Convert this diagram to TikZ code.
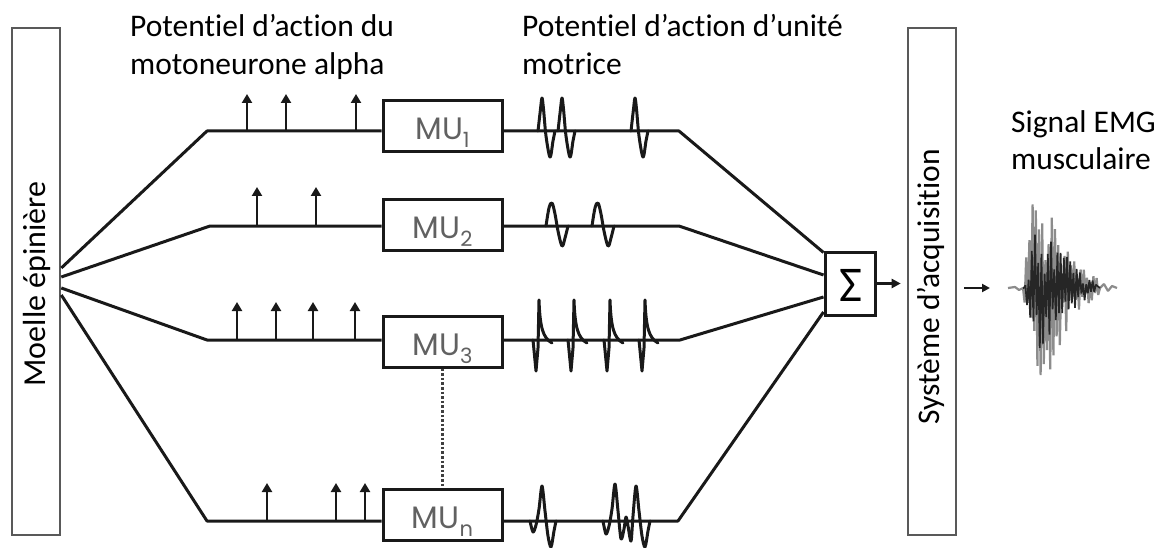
\documentclass[tikz,border=0pt]{standalone}
\usepackage{fontspec}
\setmainfont{Carlito}[Ligatures={NoCommon}]
\newfontfamily\mufont{Poppins}
\usetikzlibrary{arrows.meta,calc}
\begin{document}
\begin{tikzpicture}[x=1pt,y=-1pt,
  declare function={env(\t)=min(\t/9,1)*exp(-max(\t-28,0)/22);},
  ln/.style={line width=3pt, draw=black!90, line join=round},
  bar/.style={draw=black!65, line width=2.6pt, inner sep=0pt, minimum width=48pt, minimum height=507pt},
  mubox/.style={draw=black!90, line width=3pt, inner sep=0pt, minimum width=119pt, minimum height=51pt},
  mulabel/.style={inner sep=0pt, anchor=base, text=black!62, font=\mufont\fontsize{31}{31}\selectfont},
  spike/.style={line width=2.8pt, draw=black!90, -{Triangle[length=9pt,width=10pt]}},
  wave/.style={line width=3pt, draw=black!90, line join=round, line cap=round},
  lbl/.style={font=\fontsize{31.5}{38}\selectfont, inner sep=0pt, anchor=base west},
  pics/muapA/.style={code={\draw[wave] plot[smooth, tension=0.55] coordinates {(-4,0) (-1.5,-22) (0,-33) (1.5,-22) (4,5) (8,26) (11,10) (13,0)};}},
  pics/muapB/.style={code={\draw[wave] plot[smooth, tension=0.6] coordinates {(-6,0) (-3,-18) (0,-23) (3,-12) (6,5) (10,20) (13,12) (16,0)};}},
  pics/muapC/.style={code={\draw[wave] (-6,0) -- (-3,31) -- (-1,8) -- (0,-40) .. controls (1,-12) and (4,-2) .. (13,3);}},
  pics/muapD/.style={code={\draw[wave] plot[smooth, tension=0.5] coordinates {(-12,0) (-9,11) (-6,4) (-3,-12) (0,-35) (3,-10) (6,15) (9,26) (12,10) (14,0)};}},
  pics/muapE/.style={code={\draw[wave] plot[smooth, tension=0.5] coordinates {(-12,0) (-9,13) (-6,5) (-3,-12) (0,-37) (3,-10) (6,18) (9,8) (11,-4) (13,5) (16,20) (18,-5) (21,-35) (24,-10) (27,15) (30,26) (33,10) (35,0)};}},
  ]
\useasboundingbox (0,0) rectangle (1161,548);

% side bars
\node[bar] (moelle) at (36,281.5) {};
\node[rotate=90, font=\fontsize{32}{32}\selectfont, inner sep=0pt] (moelletxt) at (37,284) {Moelle épinière};
\node[bar] (acq) at (932,281.5) {};
\node[rotate=90, font=\fontsize{31.5}{32}\selectfont, inner sep=0pt] (acqtxt) at (931,287) {Système d’acquisition};

% labels
\node[lbl] (t1a) at (130,37) {Potentiel d’action du};
\node[lbl] (t1b) at (130,75) {motoneurone alpha};
\node[lbl] (t2a) at (522,37) {Potentiel d’action d’unité};
\node[lbl] (t2b) at (522,75) {motrice};
\node[lbl] (t3a) at (1011,133) {Signal EMG};
\node[lbl] (t3b) at (1011,170) {musculaire};

% MU boxes
\node[mubox] (mu1) at (442.5,126.5) {};
\node[mubox] (mu2) at (442.5,225) {};
\node[mubox] (mu3) at (442.5,341.5) {};
\node[mubox] (mun) at (442.5,515) {};
\node[mulabel] (mu1t) at ($(mu1.center)+(0,13.5)$) {MU\raisebox{-8pt}{\fontsize{21}{21}\selectfont 1}};
\node[mulabel] (mu2t) at ($(mu2.center)+(0,13.5)$) {MU\raisebox{-8pt}{\fontsize{21}{21}\selectfont 2}};
\node[mulabel] (mu3t) at ($(mu3.center)+(0,13.5)$) {MU\raisebox{-8pt}{\fontsize{21}{21}\selectfont 3}};
\node[mulabel] (munt) at ($(mun.center)+(0,13.5)$) {MU\raisebox{-8pt}{\fontsize{21}{21}\selectfont n}};
\draw[line width=2.6pt, draw=black!75, dotted] (mu3.south) -- (mun.north);

% sum box
\node[draw=black!90, line width=3pt, inner sep=0pt, minimum width=50pt, minimum height=63pt] (sigma) at (850,283.5) {};
\node[inner sep=0pt, font=\fontsize{50}{50}\selectfont] (sigmat) at (851,285) {Σ};

% bends
\coordinate (L1) at (207,131);
\coordinate (L2) at (210,226);
\coordinate (L3) at (207,340);
\coordinate (Ln) at (207,521);
\coordinate (R1) at (679,131);
\coordinate (R2) at (679,226);
\coordinate (R3) at (680,340);
\coordinate (Rn) at (678,521);

\draw[ln] ($(moelle.east)+(0,-13.5)$) -- (L1) -- (L1 -| mu1.west);
\draw[ln] ($(moelle.east)+(0,-4.5)$) -- (L2) -- (L2 -| mu2.west);
\draw[ln] ($(moelle.east)+(0,6.5)$) -- (L3) -- (L3 -| mu3.west);
\draw[ln] ($(moelle.east)+(0,13.5)$) -- (Ln) -- (Ln -| mun.west);

\draw[ln] (R1 -| mu1.east) -- (R1) -- ($(sigma.west)+(0,-31)$);
\draw[ln] (R2 -| mu2.east) -- (R2) -- ($(sigma.west)+(0,-8.5)$);
\draw[ln] (R3 -| mu3.east) -- (R3) -- ($(sigma.west)+(0,13.5)$);
\draw[ln] (Rn -| mun.east) -- (Rn) -- ($(sigma.west)+(0,28.5)$);

% action potential arrows
\foreach \x in {247,286,356} \draw[spike] (\x,131) -- ++(0,-37);
\foreach \x in {257,316} \draw[spike] (\x,226) -- ++(0,-39);
\foreach \x in {237,276,313,355} \draw[spike] (\x,340) -- ++(0,-38);
\foreach \x in {267,336,365} \draw[spike] (\x,521) -- ++(0,-38);

% MUAPs
\pic at (542,131) {muapA};
\pic at (562,131) {muapA};
\pic at (635,131) {muapA};
\pic at (552,226) {muapB};
\pic at (598,226) {muapB};
\pic at (539,340) {muapC};
\pic at (574,340) {muapC};
\pic at (610,340) {muapC};
\pic at (645,340) {muapC};
\pic at (542,521) {muapD};
\pic at (615,521) {muapE};

% output arrows
\coordinate (emg) at (1008,288);
\draw[ln, line width=2.8pt, -{Triangle[length=9pt,width=9pt]}, shorten >=6pt] (sigma.east) -- (acq.west |- sigma.east);
\draw[ln, line width=2.5pt, -{Triangle[length=8pt,width=8pt]}, shorten <=7pt, shorten >=18pt] (acq.east |- emg) -- (emg);

% EMG signal
\pgfmathsetseed{12}
\draw[black!45, line width=2.2pt, line join=bevel] (emg) -- (1015,287) -- (1019,290) -- (1023,288)
  \foreach \i in {0,...,47} { -- ({1023+1.6*\i},{288+(2*mod(\i,2)-1)*88*env(1.6*\i)*(0.25+0.75*rnd)}) } -- (1100,288) -- (1104,284) -- (1108,291) -- (1112,286) -- (1117,288);
\pgfmathsetseed{5}
\draw[black!85, line width=1.7pt, line join=bevel] (1023,288)
  \foreach \i in {0,...,45} { -- ({1023.8+1.6*\i},{288+(2*mod(\i+1,2)-1)*62*env(1.6*\i)*(0.2+0.8*rnd)}) } -- (1100,288);
\end{tikzpicture}
\end{document}
